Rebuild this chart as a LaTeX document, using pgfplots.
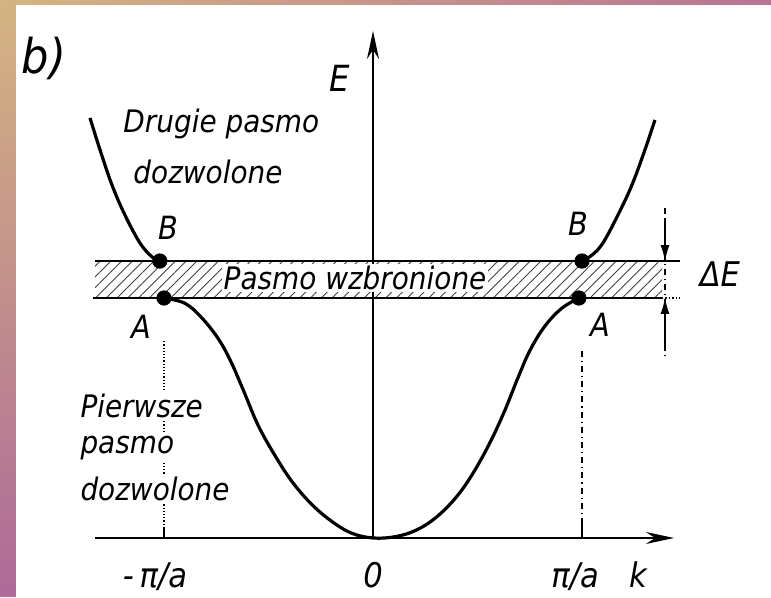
\documentclass[border=0pt]{standalone}
\usepackage{pgfplots}
\pgfplotsset{compat=1.18}
\usepackage{fontspec}
\setmainfont{DejaVu Sans}[FakeStretch=0.9]
\usetikzlibrary{arrows.meta,patterns.meta}

\definecolor{frgold}{HTML}{D4B482}
\definecolor{frpurple}{HTML}{AE6A98}
\definecolor{frpink}{HTML}{B87494}

\tikzset{
  lbl/.style={font=\fontsize{15.5}{17}\selectfont\itshape},
  lblb/.style={font=\fontsize{16}{18}\selectfont\itshape},
}

\begin{document}
\begin{tikzpicture}
\begin{axis}[
  width=385.5pt, height=298pt, scale only axis,
  xmin=-1.7847, xmax=1.9043,
  ymin=-0.2417, ymax=2.2417,
  hide axis, clip=false,
]
% frame strips
\fill[top color=frgold, bottom color=frpurple] (rel axis cs:0,0) rectangle (rel axis cs:0.02075,1);
\fill[left color=frgold, right color=frpink] (rel axis cs:0,0.99161) rectangle (rel axis cs:1,1);

% forbidden band
\fill[pattern={Lines[angle=45,distance=3.8pt,line width=0.45pt]}, pattern color=black!75]
  (axis cs:-1.33,1.0) rectangle (axis cs:1.383,1.154);
\draw[line width=1.1pt] (axis cs:-1.33,1.154) -- (axis cs:1.469,1.154);
\draw[line width=1.1pt] (axis cs:-1.34,1.0) -- (axis cs:1.383,1.0);
\draw[line width=0.7pt, densely dotted] (axis cs:1.383,1.0) -- (axis cs:1.469,1.0);

% guide lines at the zone boundaries
\draw[line width=0.6pt, densely dotted] (axis cs:-1.0,0.82) -- (axis cs:-1.0,0.0);
\draw[line width=0.8pt] (axis cs:-1.0,0) -- (axis cs:-1.0,0.04);
\draw[line width=0.6pt, dash dot] (axis cs:1.0,0.78) -- (axis cs:1.0,0.075);
\draw[line width=0.8pt] (axis cs:1.0,0) -- (axis cs:1.0,0.075);

% Delta E dimension
\draw[line width=0.6pt, dash dot] (axis cs:1.397,1.375) -- (axis cs:1.397,0.742);
\draw[line width=0.6pt, -{Latex[length=8pt,width=4.5pt]}] (axis cs:1.397,1.33) -- (axis cs:1.397,1.154);
\draw[line width=0.6pt, -{Latex[length=8pt,width=4.5pt]}] (axis cs:1.397,0.80) -- (axis cs:1.397,1.0);

% axes
\draw[line width=0.8pt, -{Stealth[length=14pt,width=6pt]}] (axis cs:-1.33,0) -- (axis cs:1.44,0);
\draw[line width=0.8pt, -{Stealth[length=14pt,width=6pt]}] (axis cs:0,0) -- (axis cs:0,2.1125);

% first allowed band
\addplot[line width=1.6pt, smooth, tension=0.6] coordinates {
  (-1.0,1.0) (-0.90,0.978) (-0.82,0.918) (-0.74,0.830) (-0.68,0.735)
  (-0.62,0.615) (-0.55,0.470) (-0.47,0.345) (-0.39,0.238)
  (-0.30,0.146) (-0.205,0.074) (-0.105,0.021) (0.0,0.0) (0.11,0.006)
  (0.21,0.034) (0.305,0.088) (0.40,0.172) (0.48,0.272) (0.56,0.398)
  (0.63,0.530) (0.69,0.660) (0.75,0.780) (0.82,0.880) (0.90,0.955)
  (0.985,1.0)
};
% second allowed band
\addplot[line width=1.6pt, smooth, tension=0.6] coordinates {
  (-1.354,1.75) (-1.306,1.617) (-1.249,1.471) (-1.187,1.346)
  (-1.115,1.229) (-1.057,1.171) (-1.02,1.154)
};
\addplot[line width=1.6pt, smooth, tension=0.6] coordinates {
  (1.0,1.154) (1.048,1.179) (1.100,1.229) (1.172,1.346)
  (1.239,1.471) (1.301,1.617) (1.349,1.742)
};
% band edge points
\addplot[only marks, mark=*, mark size=3.6pt, black] coordinates {
  (-1.0,1.0) (0.985,1.0) (-1.02,1.154) (1.0,1.154)
};

% labels
\node[font=\fontsize{24}{26}\selectfont\itshape] at (axis cs:-1.575,2.0) {b)};
\node[font=\fontsize{18}{20}\selectfont\itshape] at (axis cs:-0.158,1.917) {E};
\node[lbl, anchor=base west, inner sep=0pt] at (axis cs:-1.196,1.6875) {Drugie pasmo};
\node[lbl, anchor=base west, inner sep=0pt] at (axis cs:-1.148,1.479) {dozwolone};
\node[lblb] at (axis cs:-0.981,1.292) {B};
\node[lblb] at (axis cs:0.981,1.308) {B};
\node[lblb] at (axis cs:-1.110,0.879) {A};
\node[lblb] at (axis cs:1.086,0.8875) {A};
\node[lbl, fill=white, inner sep=1pt] at (axis cs:-0.086,1.0825) {Pasmo wzbronione};
\node[font=\fontsize{17}{19}\selectfont\itshape] at (axis cs:1.660,1.1) {ΔE};
\node[lbl, anchor=base west, fill=white, inner sep=1pt] at (axis cs:-1.411,0.504) {Pierwsze};
\node[lbl, anchor=base west, fill=white, inner sep=1pt] at (axis cs:-1.411,0.354) {pasmo};
\node[lbl, anchor=base west, fill=white, inner sep=1pt] at (axis cs:-1.411,0.158) {dozwolone};
\node[lblb, anchor=base, font=\fontsize{17}{19}\selectfont\itshape] at (axis cs:-1.043,-0.208) {-\,π/a};
\node[lblb, anchor=base, font=\fontsize{17}{19}\selectfont\itshape] at (axis cs:0,-0.208) {0};
\node[lblb, anchor=base, font=\fontsize{17}{19}\selectfont\itshape] at (axis cs:0.967,-0.208) {π/a};
\node[lblb, anchor=base, font=\fontsize{17}{19}\selectfont\itshape] at (axis cs:1.268,-0.208) {k};
\end{axis}
\end{tikzpicture}
\end{document}
